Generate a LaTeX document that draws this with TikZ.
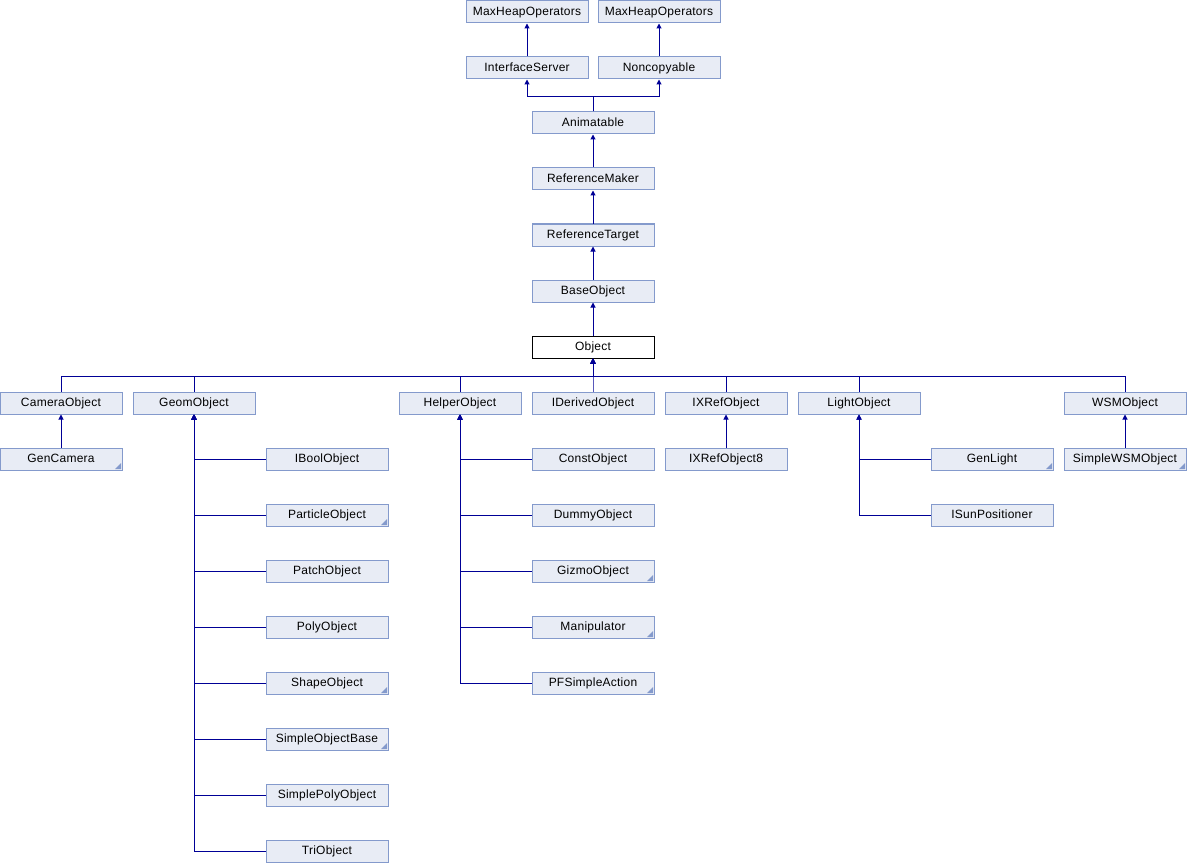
\documentclass[tikz,border=0pt]{standalone}
\usepackage{fontspec}
\setmainfont{Liberation Sans}[LetterSpace=2]
\usetikzlibrary{arrows.meta}
\definecolor{boxfill}{RGB}{232,236,245}
\definecolor{boxline}{RGB}{132,154,204}
\definecolor{edgecol}{RGB}{0,0,150}
\tikzset{
  cls/.style={draw=boxline, fill=boxfill, line width=1pt, minimum width=122pt, minimum height=22pt, inner sep=0pt, text height=9pt, text depth=2.4pt, font=\fontsize{12}{14}\selectfont},
  curcls/.style={cls, draw=black, fill=white},
  more/.style={path picture={\fill[boxline] ([xshift=-1pt,yshift=1pt]path picture bounding box.south east) -- ++(-6pt,0) -- ++(6pt,6pt) -- cycle;}},
  edge/.style={draw=edgecol, line width=1pt, -{Triangle[length=5pt,width=5pt]}},
}
\begin{document}
\begin{tikzpicture}[x=1pt,y=-1pt]
\useasboundingbox (0,0) rectangle (1187,864);
% top chain
\node[cls] (mh1) at (527,12) {MaxHeapOperators};
\node[cls] (mh2) at (659,12) {MaxHeapOperators};
\node[cls] (iserv) at (527,68) {InterfaceServer};
\node[cls] (noncp) at (659,68) {Noncopyable};
\node[cls] (anim) at (593,123) {Animatable};
\node[cls] (rmak) at (593,179) {ReferenceMaker};
\node[cls] (rtar) at (593,235) {ReferenceTarget};
\node[cls] (base) at (593,291) {BaseObject};
\node[curcls] (obj) at (593,347) {Object};
% row of direct children
\node[cls] (cam) at (61,403) {CameraObject};
\node[cls] (geom) at (194,403) {GeomObject};
\node[cls] (help) at (460,403) {HelperObject};
\node[cls] (ider) at (593,403) {IDerivedObject};
\node[cls] (ixref) at (726,403) {IXRefObject};
\node[cls] (light) at (859,403) {LightObject};
\node[cls] (wsm) at (1125,403) {WSMObject};
% grandchildren
\node[cls,more] (gcam) at (61,459) {GenCamera};
\node[cls] (ibool) at (327,459) {IBoolObject};
\node[cls,more] (part) at (327,515) {ParticleObject};
\node[cls] (patch) at (327,571) {PatchObject};
\node[cls] (poly) at (327,627) {PolyObject};
\node[cls,more] (shape) at (327,683) {ShapeObject};
\node[cls,more] (sobase) at (327,739) {SimpleObjectBase};
\node[cls] (spoly) at (327,795) {SimplePolyObject};
\node[cls] (tri) at (327,851) {TriObject};
\node[cls] (const) at (593,459) {ConstObject};
\node[cls] (dummy) at (593,515) {DummyObject};
\node[cls,more] (gizmo) at (593,571) {GizmoObject};
\node[cls,more] (manip) at (593,627) {Manipulator};
\node[cls,more] (pfs) at (593,683) {PFSimpleAction};
\node[cls] (ixref8) at (726,459) {IXRefObject8};
\node[cls,more] (glight) at (992,459) {GenLight};
\node[cls] (isun) at (992,515) {ISunPositioner};
\node[cls,more] (swsm) at (1125,459) {SimpleWSMObject};
% junction coordinates
\coordinate (topbus) at (593,97);
\coordinate (bus) at (593,376);
% edges top
\draw[edge] (iserv.north) -- (mh1.south);
\draw[edge] (noncp.north) -- (mh2.south);
\draw[edge] (anim.north) -- (topbus) -| (iserv.south);
\draw[edge] (anim.north) -- (topbus) -| (noncp.south);
\draw[edge] (rmak.north) -- (anim.south);
\draw[edge] (rtar.north) -- (rmak.south);
\draw[edge] (base.north) -- (rtar.south);
\draw[edge] (obj.north) -- (base.south);
% bus to Object
\foreach \c in {cam,geom,help,ider,ixref,light,wsm}{
  \draw[edge] (\c.north) |- (bus) -- (obj.south);
}
% single chains
\draw[edge] (gcam.north) -- (cam.south);
\draw[edge] (ixref8.north) -- (ixref.south);
\draw[edge] (swsm.north) -- (wsm.south);
% geom children
\foreach \c in {ibool,part,patch,poly,shape,sobase,spoly,tri}{
  \draw[edge] (\c.west) -| (geom.south);
}
\foreach \c in {const,dummy,gizmo,manip,pfs}{
  \draw[edge] (\c.west) -| (help.south);
}
\foreach \c in {glight,isun}{
  \draw[edge] (\c.west) -| (light.south);
}
\end{tikzpicture}
\end{document}
